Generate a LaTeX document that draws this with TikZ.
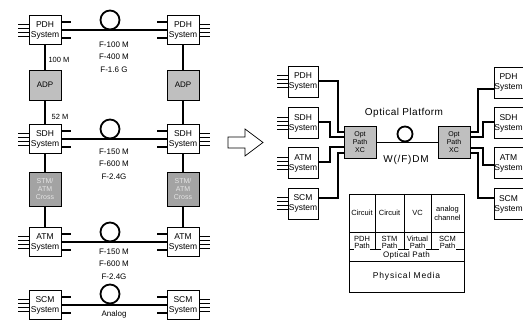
\documentclass[tikz,border=0pt]{standalone}
\usepackage{fontspec}
\setmainfont{Liberation Sans}
\begin{document}
\begin{tikzpicture}[x=1pt,y=-1pt,
  sysbox/.style={draw, line width=0.8pt, fill=white, minimum width=32pt, minimum height=29pt, inner sep=0pt, align=center, font=\fontsize{8.5}{10}\selectfont},
  rsys/.style={sysbox, minimum width=30pt, minimum height=31pt},
  graybox/.style={draw, line width=0.8pt, fill=gray!50, minimum width=32pt, minimum height=30pt, inner sep=0pt, align=center, font=\fontsize{8}{8.5}\selectfont},
  darkbox/.style={graybox, fill=gray!72, text=white!80!gray, minimum height=34pt, font=\fontsize{7}{8}\selectfont},
  xcbox/.style={graybox, minimum height=32pt, font=\fontsize{7}{8}\selectfont},
  ring/.style={circle, draw, line width=1.8pt, minimum size=19pt, inner sep=0pt},
  mainln/.style={line width=1.8pt},
  conn/.style={line width=1.6pt},
  thickstub/.style={line width=1.8pt},
  thinstub/.style={line width=0.6pt},
  lbl/.style={font=\fontsize{8}{12.5}\selectfont, inner sep=0pt, align=center},
  tbl/.style={font=\fontsize{7.5}{8.5}\selectfont, inner sep=0.6pt, align=center},
  tline/.style={line width=0.7pt}
]
\useasboundingbox (0,0) rectangle (523,320);
\fill[white] (0,0) rectangle (523,320);
\clip (0,0) rectangle (523,320);

% ---------------- left diagram ----------------
\node[sysbox] (lpdh) at (45,30) {PDH\\System};
\node[sysbox] (rpdh) at (183,30) {PDH\\System};
\node[graybox] (ladp) at (45,85) {ADP};
\node[graybox] (radp) at (183,85) {ADP};
\node[sysbox] (lsdh) at (45,139) {SDH\\System};
\node[sysbox] (rsdh) at (183,139) {SDH\\System};
\node[darkbox] (lcross) at (45,189) {STM/\\ATM\\Cross};
\node[darkbox] (rcross) at (183,189) {STM/\\ATM\\Cross};
\node[sysbox] (latm) at (45,242) {ATM\\System};
\node[sysbox] (ratm) at (183,242) {ATM\\System};
\node[sysbox] (lscm) at (45,305) {SCM\\System};
\node[sysbox] (rscm) at (183,305) {SCM\\System};

\draw[mainln] (lpdh) -- (ladp) -- (lsdh) -- (lcross) -- (latm);
\draw[mainln] (rpdh) -- (radp) -- (rsdh) -- (rcross) -- (ratm);

\foreach \b in {lpdh,lsdh,latm,lscm}{
  \foreach \d in {-6,-2,2,6} \draw[thinstub] ([yshift=\d pt]\b.west) -- ++(-11,0);
  \draw[thickstub] ([yshift=8pt]\b.east) -- ++(10,0);
  \draw[thickstub] ([yshift=-8pt]\b.east) -- ++(10,0);
}
\foreach \b in {rpdh,rsdh,ratm,rscm}{
  \foreach \d in {-6,-2,2,6} \draw[thinstub] ([yshift=\d pt]\b.east) -- ++(11,0);
  \draw[thickstub] ([yshift=8pt]\b.west) -- ++(-10,0);
  \draw[thickstub] ([yshift=-8pt]\b.west) -- ++(-10,0);
}

\draw[mainln] (lpdh) -- (rpdh);
\draw[mainln] (lsdh) -- (rsdh);
\draw[mainln] (latm) -- (ratm);
\draw[mainln] (lscm) -- (rscm);

\node[ring] (ring1) at (110,20) {};
\node[ring] (ring2) at (110,129) {};
\node[ring] (ring3) at (110,232) {};
\node[ring] (ring4) at (110,294) {};

\node[lbl] (f1) at (114,57) {F-100 M\\F-400 M\\F-1.6 G};
\node[lbl] (f2) at (114,164) {F-150 M\\F-600 M\\F-2.4G};
\node[lbl] (f3) at (114,264) {F-150 M\\F-600 M\\F-2.4G};
\node[lbl] (f4) at (114,314.5) {Analog};
\node[lbl, font=\fontsize{7.5}{8}\selectfont] (r100) at (59,60) {100 M};
\node[lbl, font=\fontsize{7.5}{8}\selectfont] (r52) at (60,117) {52 M};

% ---------------- hollow arrow ----------------
\draw[line width=0.7pt, fill=white] (228,137) -- (245,137) -- (245,129) -- (263,142.5)
  -- (245,156) -- (245,148) -- (228,148) -- cycle;

% ---------------- right diagram ----------------
\node[rsys] (apdh) at (303,81.5) {PDH\\System};
\node[rsys] (asdh) at (303,123) {SDH\\System};
\node[rsys] (aatm) at (303,163) {ATM\\System};
\node[rsys] (ascm) at (303,203.5) {SCM\\System};
\node[rsys, minimum width=29pt] (bpdh) at (508.5,82.5) {PDH\\System};
\node[rsys, minimum width=29pt] (bsdh) at (508.5,123) {SDH\\System};
\node[rsys, minimum width=29pt] (batm) at (508.5,163) {ATM\\System};
\node[rsys, minimum width=29pt] (bscm) at (508.5,204) {SCM\\System};

\foreach \b in {apdh,asdh,aatm,ascm}{
  \foreach \d in {-6,-2,2,6} \draw[thinstub] ([yshift=\d pt]\b.west) -- ++(-11,0);
}

\node[xcbox] (lxc) at (360,142.5) {Opt\\Path\\XC};
\node[xcbox] (rxc) at (454,142.5) {Opt\\Path\\XC};
\draw[mainln] (lxc) -- (rxc);
\node[ring, minimum size=15pt] (ring5) at (405,134) {};
\node[font=\fontsize{10}{10}\selectfont\addfontfeature{LetterSpace=5}, inner sep=0pt] (oplat) at (404,113) {Optical Platform};
\node[font=\fontsize{10}{10}\selectfont\addfontfeature{LetterSpace=8}, inner sep=0pt] (wdm) at (406,160) {W(/F)DM};

\draw[conn] (apdh.east |- 0,81) -- (338,81) -- (338,132) -- (lxc.west |- 0,132);
\draw[conn] (asdh.east |- 0,122) -- (330,122) -- (330,137) -- (lxc.west |- 0,137);
\draw[conn] (aatm.east |- 0,162) -- (330,162) -- (330,147) -- (lxc.west |- 0,147);
\draw[conn] (ascm.east |- 0,198) -- (338,198) -- (338,153) -- (lxc.west |- 0,153);

\draw[conn] (rxc.east |- 0,132) -- (478,132) -- (478,89) -- (bpdh.west |- 0,89);
\draw[conn] (rxc.east |- 0,137) -- (483,137) -- (483,122) -- (bsdh.west |- 0,122);
\draw[conn] (rxc.east |- 0,148) -- (483,148) -- (483,165) -- (batm.west |- 0,165);
\draw[conn] (rxc.east |- 0,153) -- (478,153) -- (478,198) -- (bscm.west |- 0,198);

% ---------------- layer table ----------------
\draw[tline] (349,194) rectangle (464,292);
\draw[tline] (349,232) -- (464,232);
\draw[tline] (349,249) -- (464,249);
\draw[tline] (349,261) -- (464,261);
\draw[tline] (375,194) -- (375,249);
\draw[tline] (404,194) -- (404,249);
\draw[tline] (431,194) -- (431,249);

\node[tbl] (c1) at (362,213) {Circuit};
\node[tbl] (c2) at (389.5,213) {Circuit};
\node[tbl] (c3) at (417.5,213) {VC};
\node[tbl, font=\fontsize{7.5}{9}\selectfont] (c4) at (447.5,213) {analog\\channel};
\node[tbl] (p1) at (362,239) {PDH};
\node[tbl] (p2) at (389.5,239) {STM};
\node[tbl] (p3) at (417.5,239) {Virtual};
\node[tbl] (p4) at (447.5,239) {SCM};
\node[tbl, fill=white, anchor=base] (q1) at (362,249) {Path};
\node[tbl, fill=white, anchor=base] (q2) at (389.5,249) {Path};
\node[tbl, fill=white, anchor=base] (q3) at (417.5,249) {Path};
\node[tbl, fill=white, anchor=base] (q4) at (447.5,249) {Path};
\node[tbl, font=\fontsize{8}{9}\selectfont\addfontfeature{LetterSpace=4}] (opath) at (406.5,255) {Optical Path};
\node[tbl, font=\fontsize{8.5}{9}\selectfont\addfontfeature{LetterSpace=10}] (pmedia) at (406.5,276.5) {Physical Media};
\end{tikzpicture}
\end{document}
